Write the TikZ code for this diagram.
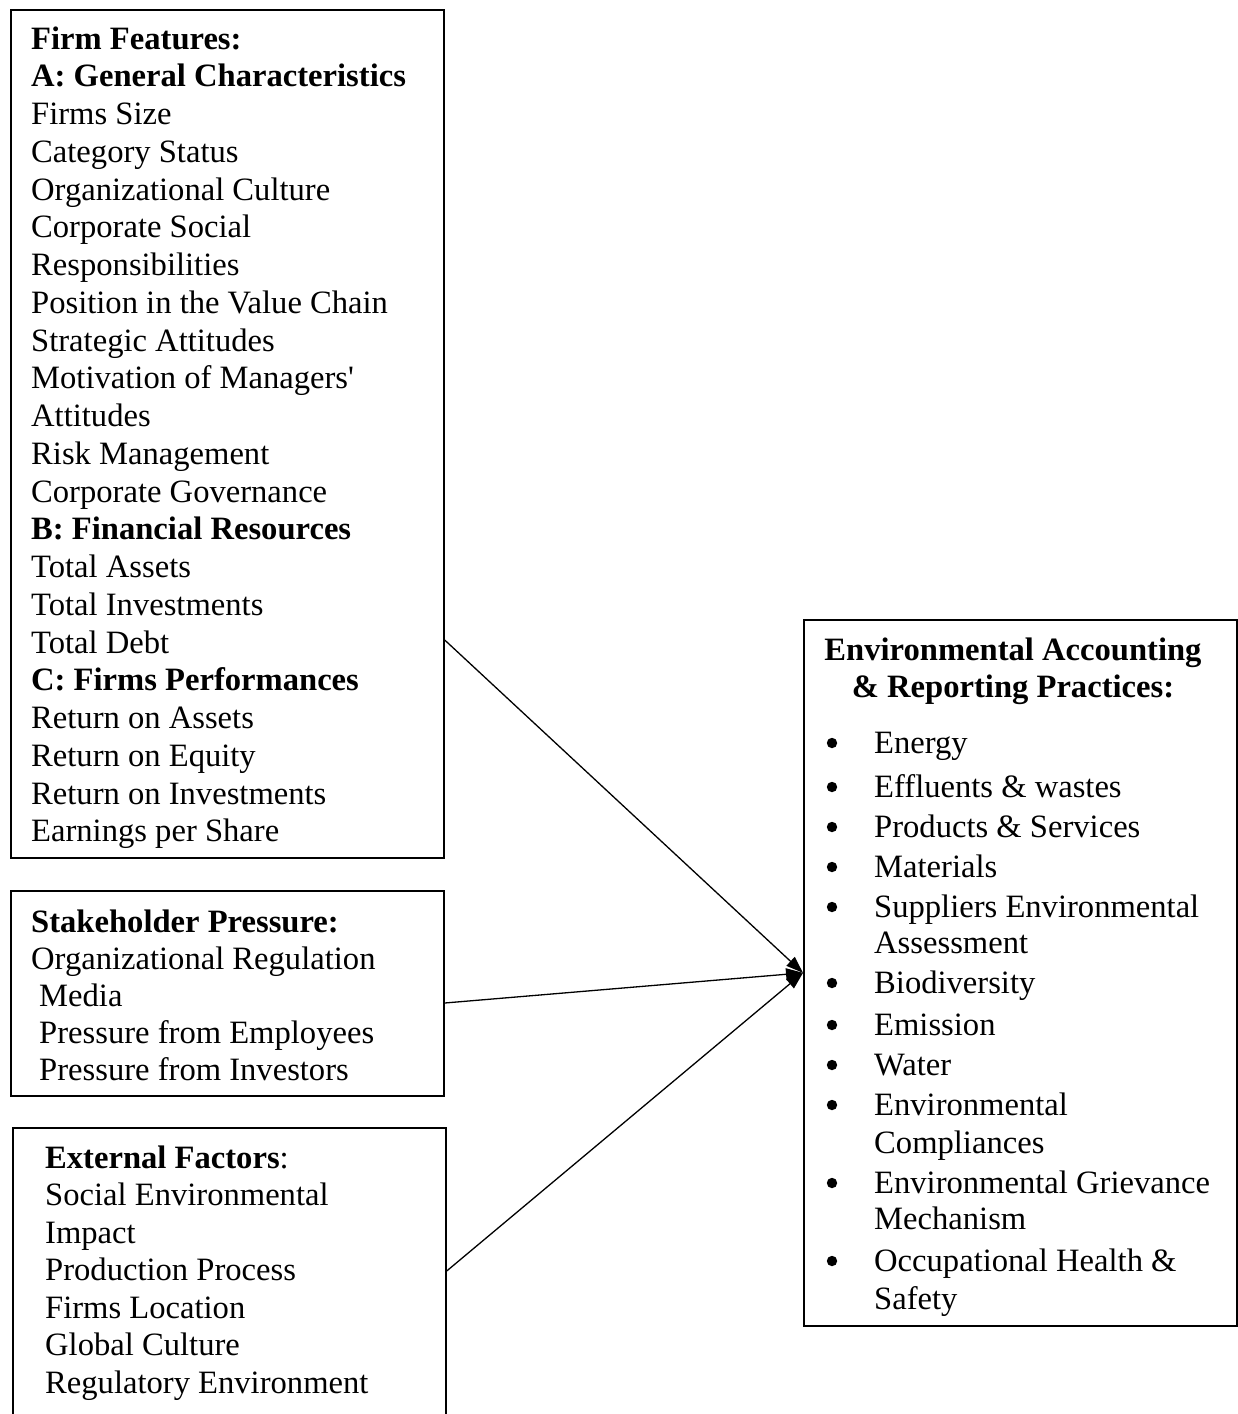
\documentclass[tikz,border=0pt]{standalone}
\usepackage{fontspec}
\setmainfont{Liberation Serif}
\usetikzlibrary{arrows.meta}
\newcommand{\straightq}{{\addfontfeature{Ligatures=TeXOff}'}}
\begin{document}
\begin{tikzpicture}[x=1pt,y=-1pt,
  frame/.style={draw, line width=1.7pt, rectangle, inner sep=0pt, anchor=north west},
  txt/.style={anchor=base west, inner sep=0pt, font=\fontsize{32.6}{37.8}\selectfont},
  ttl/.style={anchor=base, inner sep=0pt, font=\fontsize{32.6}{37.8}\selectfont\bfseries},
  link/.style={line width=1.3pt, -{Triangle[length=17pt,width=12pt]}}
]
\useasboundingbox (0,0) rectangle (1238,1414);
\clip (0,0) rectangle (1238,1414);
\fill[white] (0,0) rectangle (1238,1414);

% ---- frames ----
\node[frame, minimum width=433pt, minimum height=848pt] (firm) at (10,9) {};
\node[frame, minimum width=433pt, minimum height=205pt] (stake) at (10,890) {};
\node[frame, minimum width=433pt, minimum height=330pt] (extf) at (12,1127) {};
\node[frame, minimum width=433pt, minimum height=706pt] (env) at (803,619) {};

% ---- firm features ----
\foreach \t [count=\i from 0] in {
  {\bfseries Firm Features:},
  {\bfseries A: General Characteristics},
  Firms Size, Category Status, Organizational Culture, Corporate Social,
  Responsibilities, Position in the Value Chain, Strategic Attitudes,
  Motivation of Managers\straightq, Attitudes, Risk Management, Corporate Governance,
  {\bfseries B: Financial Resources},
  Total Assets, Total Investments, Total Debt,
  {\bfseries C: Firms Performances},
  Return on Assets, Return on Equity, Return on Investments, Earnings per Share}
  \node[txt] (firm\i) at (31, 49+\i*37.76) {\t};

% ---- stakeholder pressure ----
\foreach \x/\t [count=\i from 0] in {
  31/{\bfseries Stakeholder Pressure:},
  31/Organizational Regulation,
  39/Media,
  39/Pressure from Employees,
  39/Pressure from Investors}
  \node[txt] (stake\i) at (\x, 932.5+\i*37) {\t};

% ---- external factors ----
\foreach \t [count=\i from 0] in {
  {\textbf{External Factors}:},
  Social Environmental, Impact, Production Process, Firms Location,
  Global Culture, Regulatory Environment}
  \node[txt] (extf\i) at (45, 1168+\i*37.5) {\t};

% ---- environmental accounting & reporting practices ----
\node[ttl] (envt1) at (1013,660) {Environmental Accounting};
\node[ttl] (envt2) at (1013,697.5) {\& Reporting Practices:};

\foreach \y/\t [count=\i from 1] in {
  753/Energy, 797/Effluents \& wastes, 837/Products \& Services,
  877/Materials, 917/Suppliers Environmental, 993/Biodiversity,
  1035/Emission, 1075/Water, 1115/Environmental,
  1193/Environmental Grievance, 1271/Occupational Health \&}
  {
  \node[txt] (envb\i) at (874,\y) {\t};
  \fill (832,\y-10) circle (5.2);
  }
\foreach \y/\t [count=\i from 1] in {
  953/Assessment, 1153/Compliances, 1229/Mechanism, 1309/Safety}
  \node[txt] (envc\i) at (874,\y) {\t};

% ---- connectors ----
\coordinate (s1) at (firm.east |- 0,640);
\coordinate (s2) at (stake.east |- 0,1003);
\coordinate (s3) at (extf.east |- 0,1271);
\draw[link] (s1) -- (env.west);
\draw[link] (s2) -- (env.west);
\draw[link] (s3) -- (env.west);
\end{tikzpicture}
\end{document}
